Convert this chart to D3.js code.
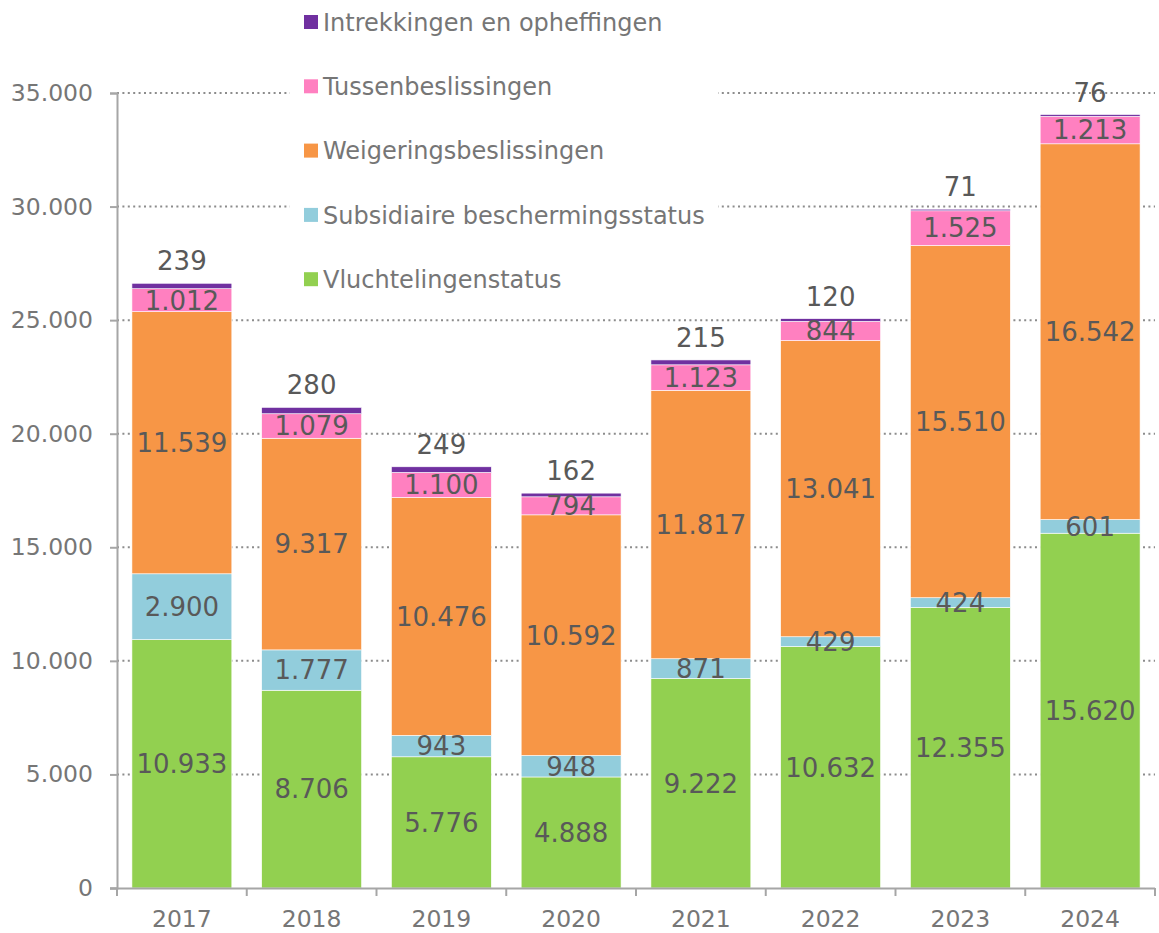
<!DOCTYPE html>
<html>
<head>
<meta charset="utf-8">
<script src="https://cdn.jsdelivr.net/npm/d3@7"></script>
<style>
  body { margin: 0; background: #fff; }
  svg { display: block; font-family: Verdana, 'DejaVu Sans', sans-serif; }
</style>
</head>
<body>
<div id="chart"></div>
<script>
const years = ['2017', '2018', '2019', '2020', '2021', '2022', '2023', '2024']
const seriesNames = ['Vluchtelingenstatus', 'Subsidiaire beschermingsstatus', 'Weigeringsbeslissingen', 'Tussenbeslissingen', 'Intrekkingen en opheffingen']
const vluchteling = [10933, 8706, 5776, 4888, 9222, 10632, 12355, 15620]
const subsidiair = [2900, 1777, 943, 948, 871, 429, 424, 601]
const weigering = [11539, 9317, 10476, 10592, 11817, 13041, 15510, 16542]
const tussen = [1012, 1079, 1100, 794, 1123, 844, 1525, 1213]
const intrekking = [239, 280, 249, 162, 215, 120, 71, 76]
const yTicks = [0, 5000, 10000, 15000, 20000, 25000, 30000, 35000]

const colors = ['#92d050', '#92cddc', '#f79646', '#ff80c0', '#7030a0']
const W = 1159, H = 933
const margin = { top: 93, right: 4, bottom: 45, left: 117 }

const rows = years.map((y, i) => ({
  year: y,
  s0: vluchteling[i], s1: subsidiair[i], s2: weigering[i], s3: tussen[i], s4: intrekking[i]
}))
const keys = ['s0', 's1', 's2', 's3', 's4']
const stacked = d3.stack().keys(keys)(rows)

const svg = d3.select('#chart').append('svg').attr('width', W).attr('height', H)

const x = d3.scaleBand().domain(years).range([margin.left, W - margin.right]).paddingInner(0.23).paddingOuter(0.115)
const y = d3.scaleLinear().domain([0, 35000]).range([H - margin.bottom, margin.top])
const fmt = (v) => d3.format(',')(v).replace(/,/g, '.')

// gridlines
svg.append('g')
  .selectAll('line')
  .data(yTicks.filter((d) => d > 0))
  .join('line')
  .attr('x1', margin.left).attr('x2', W - margin.right)
  .attr('y1', (d) => y(d)).attr('y2', (d) => y(d))
  .style('stroke', '#8c8c8c')
  .style('stroke-width', 2)
  .style('stroke-dasharray', '2,3.4')

// bars
const layer = svg.append('g')
  .selectAll('g')
  .data(stacked)
  .join('g')
  .style('fill', (d, i) => colors[i])

layer.selectAll('rect')
  .data((d) => d)
  .join('rect')
  .attr('x', (d) => x(d.data.year))
  .attr('width', x.bandwidth())
  .attr('y', (d) => y(d[1]))
  .attr('height', (d) => y(d[0]) - y(d[1]))
  .style('stroke', '#fff')
  .style('stroke-width', 0.6)

// labels inside segments (all but the top series)
stacked.slice(0, 4).forEach((s) => {
  svg.append('g')
    .selectAll('text')
    .data(s)
    .join('text')
    .attr('x', (d) => x(d.data.year) + x.bandwidth() / 2)
    .attr('y', (d) => (y(d[0]) + y(d[1])) / 2)
    .attr('dy', '0.36em')
    .attr('text-anchor', 'middle')
    .style('font-size', '26px')
    .style('fill', '#595959')
    .text((d) => fmt(d[1] - d[0]))
})

// labels above the bar for the top series
svg.append('g')
  .selectAll('text')
  .data(stacked[4])
  .join('text')
  .attr('x', (d) => x(d.data.year) + x.bandwidth() / 2)
  .attr('y', (d) => y(d[1]) - 13)
  .attr('text-anchor', 'middle')
  .style('font-size', '26px')
  .style('fill', '#595959')
  .text((d) => fmt(d[1] - d[0]))

// y axis
const yAxis = svg.append('g')
  .attr('transform', `translate(${margin.left},0)`)
  .call(d3.axisLeft(y).tickValues(yTicks).tickFormat(fmt).tickSizeOuter(0).tickSize(7).tickPadding(17))
yAxis.select('.domain').style('stroke', '#a6a6a6').style('stroke-width', 2)
yAxis.selectAll('.tick line').style('stroke', '#a6a6a6').style('stroke-width', 2)
yAxis.selectAll('.tick text').style('font-size', '23.5px').style('fill', '#767676').style('font-family', "Verdana, 'DejaVu Sans', sans-serif")

// x axis
const xAxis = svg.append('g')
  .attr('transform', `translate(0,${H - margin.bottom})`)
  .call(d3.axisBottom(x).tickSize(0).tickPadding(22))
xAxis.select('.domain').attr('d', `M${margin.left - 7},0.5H${W - margin.right}`).style('stroke', '#a6a6a6').style('stroke-width', 2)
xAxis.selectAll('.tick text').style('font-size', '23.5px').style('fill', '#767676').style('font-family', "Verdana, 'DejaVu Sans', sans-serif")
xAxis.append('g')
  .selectAll('line')
  .data(d3.range(years.length + 1))
  .join('line')
  .attr('x1', (i) => margin.left + i * x.step()).attr('x2', (i) => margin.left + i * x.step())
  .attr('y1', 0).attr('y2', 8)
  .style('stroke', '#a6a6a6').style('stroke-width', 2)

// legend
const legend = svg.append('g')
legend.append('rect')
  .attr('x', 290).attr('y', 0).attr('width', 428).attr('height', 302)
  .style('fill', '#fff')
const items = legend.selectAll('g.item')
  .data(seriesNames.slice().reverse())
  .join('g')
  .attr('class', 'item')
  .attr('transform', (d, i) => `translate(304,${22 + i * 64.3})`)
items.append('rect')
  .attr('x', 0).attr('y', -7).attr('width', 14).attr('height', 14)
  .style('fill', (d, i) => colors[4 - i])
items.append('text')
  .attr('x', 19).attr('dy', '0.36em')
  .style('font-size', '24px')
  .style('fill', '#767676')
  .text((d) => d)
</script>
</body>
</html>
